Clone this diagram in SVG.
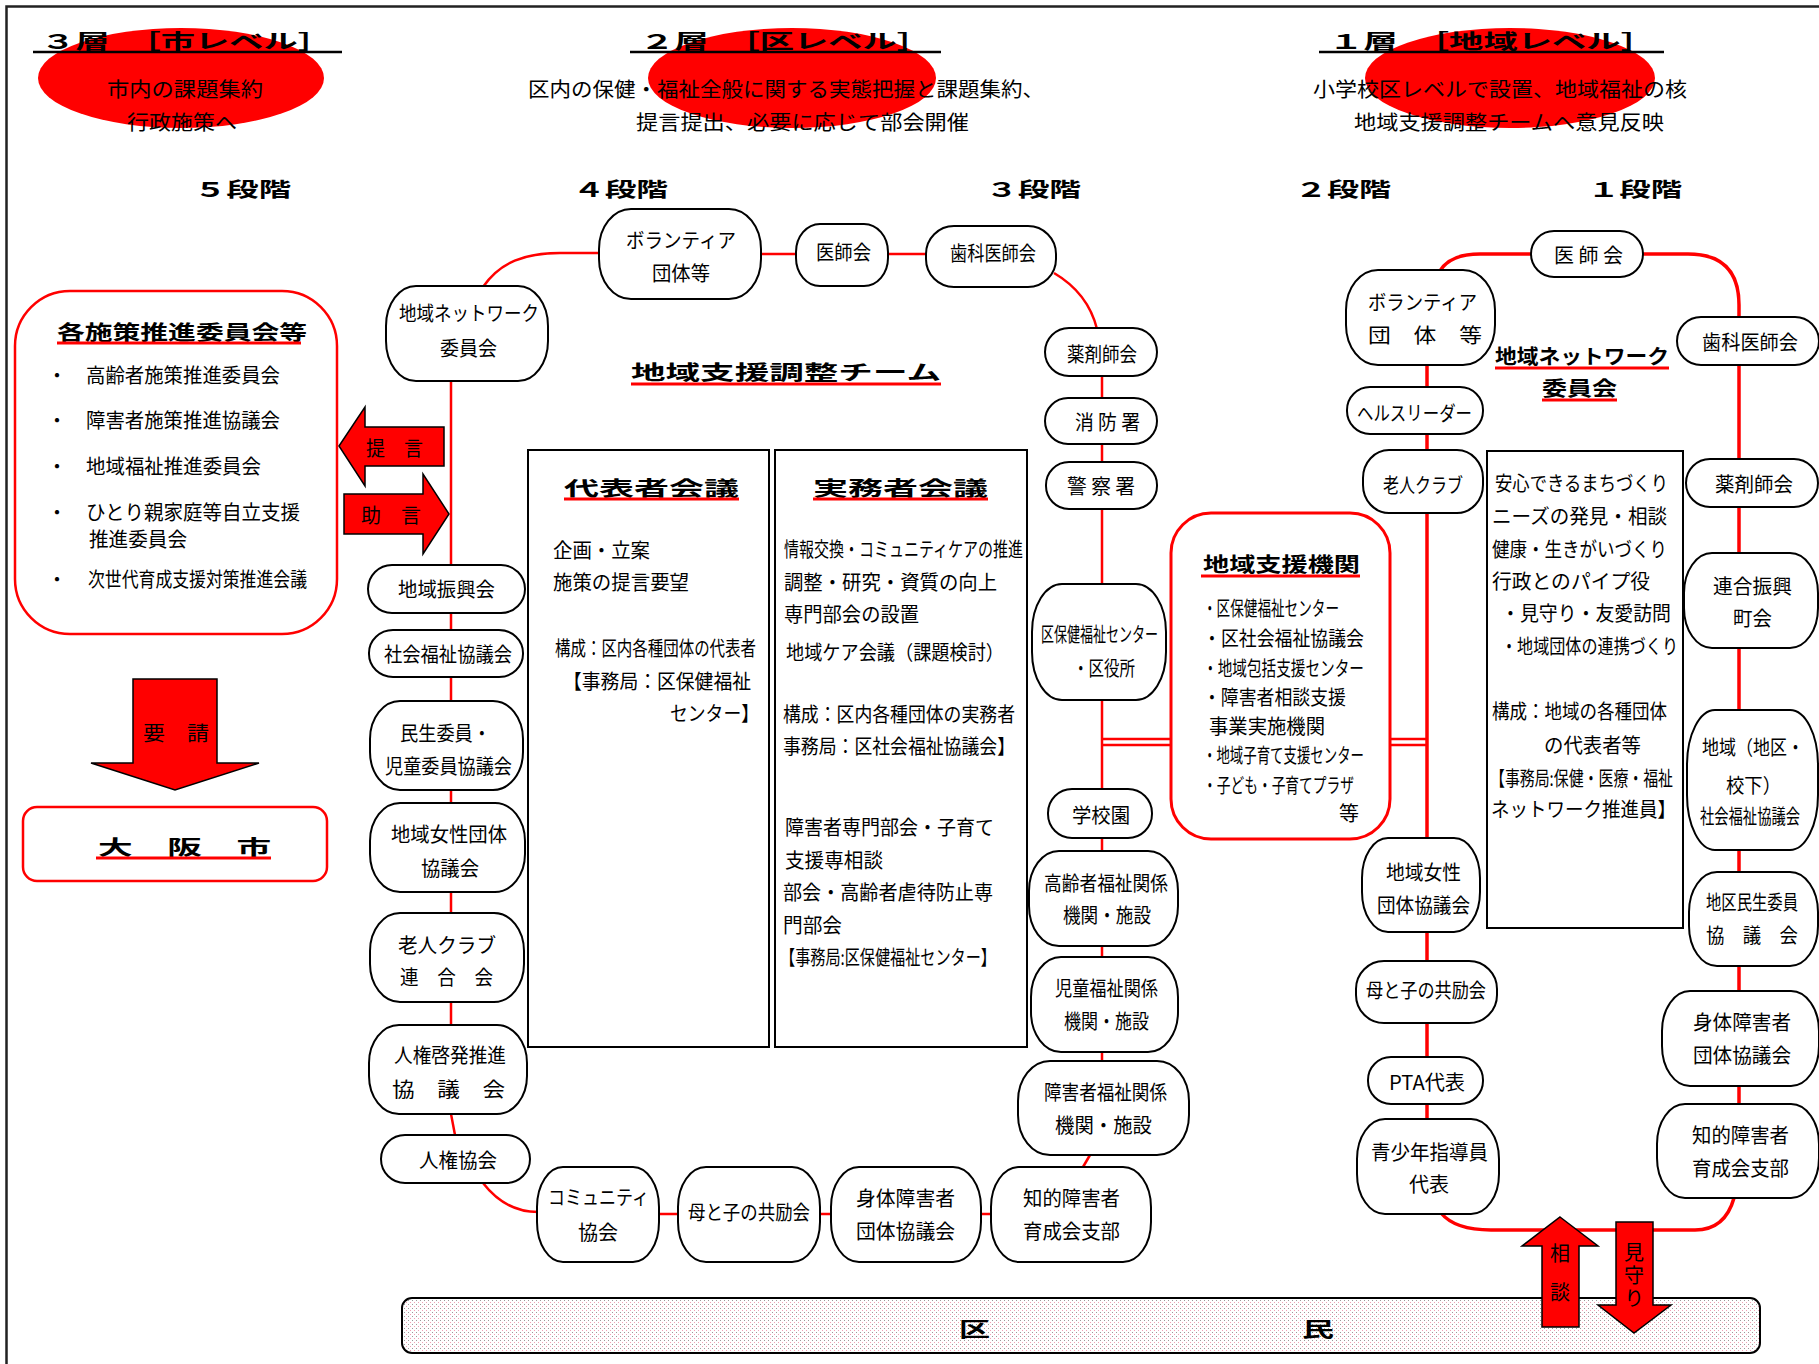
<svg xmlns="http://www.w3.org/2000/svg" width="1819" height="1364" viewBox="0 0 1819 1364">
<defs>
<style>
.t{font-family:"Noto Sans CJK JP","Noto Sans CJK SC",sans-serif;font-size:20px;fill:#000}
.b{font-weight:bold}
.v{writing-mode:vertical-rl;text-orientation:upright}
.n{fill:#fff;stroke:#000;stroke-width:2}
.rl{fill:none;stroke:#f00;stroke-width:2.5}
.rw{fill:none;stroke:#f00;stroke-width:3.5}
.ru{stroke:#f00;stroke-width:3}
.ku{stroke:#000;stroke-width:2.5}
.ar{fill:#f00;stroke:#000;stroke-width:1.5}
.rb{fill:#fff;stroke:#f00;stroke-width:2.5}
.bx{fill:#fff;stroke:#000;stroke-width:2}
</style>
<pattern id="dots" width="4" height="4" patternUnits="userSpaceOnUse">
<rect width="4" height="4" fill="#fff"/>
<rect x="0" y="0" width="1" height="1" fill="#9a9a9a"/>
<rect x="2" y="2" width="1" height="1" fill="#f2a0b4"/>
</pattern>
</defs>
<rect width="1819" height="1364" fill="#fff"/>
<rect x="6.5" y="6.5" width="1900" height="1500" fill="none" stroke="#222" stroke-width="2.5"/>

<g id="headers">
<ellipse cx="181" cy="78" rx="143" ry="50" fill="#f00"/>
<ellipse cx="792" cy="78" rx="144" ry="50" fill="#f00"/>
<ellipse cx="1510" cy="78" rx="145" ry="50" fill="#f00"/>
<text class="t b" x="41" y="49" font-size="27" textLength="291" lengthAdjust="spacingAndGlyphs">３層　［市レベル］</text>
<text class="t b" x="640" y="49" font-size="27" textLength="291" lengthAdjust="spacingAndGlyphs">２層　［区レベル］</text>
<text class="t b" x="1329" y="49" font-size="27" textLength="326" lengthAdjust="spacingAndGlyphs">１層　［地域レベル］</text>
<line class="ku" x1="33" y1="52" x2="342" y2="52"/>
<line class="ku" x1="630" y1="52" x2="941" y2="52"/>
<line class="ku" x1="1319" y1="52" x2="1664" y2="52"/>
<text class="t" x="107" y="97" font-size="22" textLength="156" lengthAdjust="spacingAndGlyphs">市内の課題集約</text>
<text class="t" x="127" y="130" font-size="22" textLength="110" lengthAdjust="spacingAndGlyphs">行政施策へ</text>
<text class="t" x="528" y="97" font-size="22" textLength="516" lengthAdjust="spacingAndGlyphs">区内の保健・福祉全般に関する実態把握と課題集約、</text>
<text class="t" x="636" y="130" font-size="22" textLength="333" lengthAdjust="spacingAndGlyphs">提言提出、必要に応じて部会開催</text>
<text class="t" x="1313" y="97" font-size="22" textLength="374" lengthAdjust="spacingAndGlyphs">小学校区レベルで設置、地域福祉の核</text>
<text class="t" x="1354" y="130" font-size="22" textLength="310" lengthAdjust="spacingAndGlyphs">地域支援調整チームへ意見反映</text>
<text class="t b" x="194" y="197" font-size="26" textLength="97" lengthAdjust="spacingAndGlyphs">５段階</text>
<text class="t b" x="573" y="197" font-size="26" textLength="95" lengthAdjust="spacingAndGlyphs">４段階</text>
<text class="t b" x="986" y="197" font-size="26" textLength="95" lengthAdjust="spacingAndGlyphs">３段階</text>
<text class="t b" x="1295" y="197" font-size="26" textLength="96" lengthAdjust="spacingAndGlyphs">２段階</text>
<text class="t b" x="1588" y="197" font-size="26" textLength="94" lengthAdjust="spacingAndGlyphs">１段階</text>
</g>

<g id="connectors">
<path class="rl" d="M483,287 C500,262 525,253 560,253 L600,253"/>
<path class="rl" d="M761,254 L796,254 M888,254 L926,254"/>
<path class="rl" d="M1054,273 Q1088,293 1097,329"/>
<path class="rl" d="M1102,376 L1102,1061"/>
<path class="rl" d="M1090,1155 L1083,1167"/>
<path class="rl" d="M659,1214 L991,1214"/>
<path class="rl" d="M451,381 L451,1114 L455,1135"/>
<path class="rl" d="M483,1183 C500,1205 520,1212 538,1212"/>
<path class="rl" d="M1102,739 L1171,739 M1102,745 L1171,745 M1390,739 L1427,739 M1390,745 L1427,745" stroke-width="2"/>
<path class="rw" d="M1440,271 Q1450,254 1480,254 L1531,254"/>
<path class="rw" d="M1643,254 L1688,254 Q1739,254 1739,305 L1739,1104"/>
<path class="rw" d="M1427,365 L1427,1119"/>
<path class="rw" d="M1441,1213 Q1455,1230 1491,1230 L1695,1230 Q1725,1230 1734,1198"/>
</g>

<g id="left-policy-box">
<rect class="rb" x="15" y="291" width="322" height="343" rx="55" ry="55"/>
<text class="t b" x="57" y="340" font-size="28" textLength="250" lengthAdjust="spacingAndGlyphs">各施策推進委員会等</text>
<line class="ru" x1="57" y1="343" x2="301" y2="343"/>
<text class="t" x="47" y="383">・</text>
<text class="t" x="47" y="428">・</text>
<text class="t" x="47" y="474">・</text>
<text class="t" x="47" y="520">・</text>
<text class="t" x="47" y="587">・</text>
<text class="t" x="86" y="383" textLength="194" lengthAdjust="spacingAndGlyphs">高齢者施策推進委員会</text>
<text class="t" x="86" y="428" textLength="194" lengthAdjust="spacingAndGlyphs">障害者施策推進協議会</text>
<text class="t" x="86" y="474" textLength="175" lengthAdjust="spacingAndGlyphs">地域福祉推進委員会</text>
<text class="t" x="86" y="520" textLength="214" lengthAdjust="spacingAndGlyphs">ひとり親家庭等自立支援</text>
<text class="t" x="89" y="547" textLength="98" lengthAdjust="spacingAndGlyphs">推進委員会</text>
<text class="t" x="88" y="587" textLength="219" lengthAdjust="spacingAndGlyphs">次世代育成支援対策推進会議</text>
</g>

<g id="arrow-teigen">
<polygon class="ar" points="339,446 365,407 365,427 444,427 444,466 365,466 365,486"/>
<text class="t" x="366" y="456" font-size="19" textLength="57" lengthAdjust="spacingAndGlyphs">提　言</text>
</g>
<g id="arrow-jogen">
<polygon class="ar" points="344,494 423,494 423,474 449,514 423,554 423,534 344,534"/>
<text class="t" x="361" y="523" font-size="19" textLength="60" lengthAdjust="spacingAndGlyphs">助　言</text>
</g>
<g id="arrow-yousei">
<polygon class="ar" points="133,679 217,679 217,763 259,763 175,790 91,763 133,763"/>
<text class="t" x="143" y="741" font-size="21" textLength="66" lengthAdjust="spacingAndGlyphs">要　請</text>
</g>
<g id="osaka-city">
<rect class="rb" x="23" y="807" width="304" height="74" rx="14" ry="14"/>
<text class="t b" x="98" y="855" font-size="29" textLength="173" lengthAdjust="spacingAndGlyphs">大　阪　市</text>
<line class="ru" x1="96" y1="858" x2="271" y2="858"/>
</g>

<g id="team-title">
<text class="t b" x="631" y="380" font-size="28" textLength="310" lengthAdjust="spacingAndGlyphs">地域支援調整チーム</text>
<line class="ru" x1="631" y1="384" x2="941" y2="384"/>
</g>

<g id="daihyousha">
<rect class="bx" x="528" y="450" width="241" height="597"/>
<text class="t b" x="564" y="496" font-size="28" textLength="175" lengthAdjust="spacingAndGlyphs">代表者会議</text>
<line class="ru" x1="564" y1="499" x2="739" y2="499"/>
<text class="t" x="553" y="558" textLength="97" lengthAdjust="spacingAndGlyphs">企画・立案</text>
<text class="t" x="553" y="590" textLength="136" lengthAdjust="spacingAndGlyphs">施策の提言要望</text>
<text class="t" x="555" y="656" textLength="201" lengthAdjust="spacingAndGlyphs">構成：区内各種団体の代表者</text>
<text class="t" x="563" y="689" textLength="188" lengthAdjust="spacingAndGlyphs">【事務局：区保健福祉</text>
<text class="t" x="670" y="721" textLength="89" lengthAdjust="spacingAndGlyphs">センター】</text>
</g>

<g id="jitsumusha">
<rect class="bx" x="775" y="450" width="252" height="597"/>
<text class="t b" x="813" y="496" font-size="28" textLength="175" lengthAdjust="spacingAndGlyphs">実務者会議</text>
<line class="ru" x1="813" y1="499" x2="988" y2="499"/>
<text class="t" x="784" y="557" textLength="239" lengthAdjust="spacingAndGlyphs">情報交換・コミュニティケアの推進</text>
<text class="t" x="784" y="590" textLength="213" lengthAdjust="spacingAndGlyphs">調整・研究・資質の向上</text>
<text class="t" x="784" y="622" textLength="135" lengthAdjust="spacingAndGlyphs">専門部会の設置</text>
<text class="t" x="786" y="660" font-size="19" textLength="218" lengthAdjust="spacingAndGlyphs">地域ケア会議（課題検討）</text>
<text class="t" x="783" y="722" textLength="232" lengthAdjust="spacingAndGlyphs">構成：区内各種団体の実務者</text>
<text class="t" x="783" y="754" textLength="232" lengthAdjust="spacingAndGlyphs">事務局：区社会福祉協議会】</text>
<text class="t" x="785" y="835" textLength="209" lengthAdjust="spacingAndGlyphs">障害者専門部会・子育て</text>
<text class="t" x="785" y="868" textLength="98" lengthAdjust="spacingAndGlyphs">支援専相談</text>
<text class="t" x="783" y="900" textLength="210" lengthAdjust="spacingAndGlyphs">部会・高齢者虐待防止専</text>
<text class="t" x="783" y="933" textLength="59" lengthAdjust="spacingAndGlyphs">門部会</text>
<text class="t" x="780" y="965" textLength="216" lengthAdjust="spacingAndGlyphs">【事務局:区保健福祉センター】</text>
</g>

<g id="shien-kikan">
<rect x="1171" y="513" width="219" height="326" rx="40" ry="40" fill="#fff" stroke="#f00" stroke-width="3"/>
<text class="t b" x="1203" y="572" font-size="27" textLength="157" lengthAdjust="spacingAndGlyphs">地域支援機関</text>
<line class="ru" x1="1201" y1="576" x2="1360" y2="576"/>
<text class="t" x="1203" y="616" font-size="19" textLength="136" lengthAdjust="spacingAndGlyphs">・区保健福祉センター</text>
<text class="t" x="1203" y="646" font-size="19" textLength="161" lengthAdjust="spacingAndGlyphs">・区社会福祉協議会</text>
<text class="t" x="1203" y="676" font-size="19" textLength="161" lengthAdjust="spacingAndGlyphs">・地域包括支援センター</text>
<text class="t" x="1203" y="705" font-size="19" textLength="143" lengthAdjust="spacingAndGlyphs">・障害者相談支援</text>
<text class="t" x="1209" y="734" font-size="19" textLength="116" lengthAdjust="spacingAndGlyphs">事業実施機関</text>
<text class="t" x="1203" y="763" font-size="19" textLength="161" lengthAdjust="spacingAndGlyphs">・地域子育て支援センター</text>
<text class="t" x="1203" y="793" font-size="19" textLength="151" lengthAdjust="spacingAndGlyphs">・子ども・子育てプラザ</text>
<text class="t" x="1339" y="821" font-size="19">等</text>
</g>

<g id="net-title">
<text class="t b" x="1495" y="364" font-size="25" textLength="174" lengthAdjust="spacingAndGlyphs">地域ネットワーク</text>
<line class="ru" x1="1495" y1="368" x2="1669" y2="368"/>
<text class="t b" x="1542" y="396" font-size="25" textLength="75" lengthAdjust="spacingAndGlyphs">委員会</text>
<line class="ru" x1="1542" y1="400" x2="1617" y2="400"/>
</g>

<g id="net-box">
<rect class="bx" x="1487" y="451" width="196" height="477"/>
<text class="t" x="1495" y="491" textLength="173" lengthAdjust="spacingAndGlyphs">安心できるまちづくり</text>
<text class="t" x="1492" y="524" textLength="175" lengthAdjust="spacingAndGlyphs">ニーズの発見・相談</text>
<text class="t" x="1492" y="557" textLength="175" lengthAdjust="spacingAndGlyphs">健康・生きがいづくり</text>
<text class="t" x="1492" y="589" textLength="158" lengthAdjust="spacingAndGlyphs">行政とのパイプ役</text>
<text class="t" x="1501" y="621" textLength="170" lengthAdjust="spacingAndGlyphs">・見守り・友愛訪問</text>
<text class="t" x="1501" y="654" textLength="177" lengthAdjust="spacingAndGlyphs">・地域団体の連携づくり</text>
<text class="t" x="1492" y="719" textLength="175" lengthAdjust="spacingAndGlyphs">構成：地域の各種団体</text>
<text class="t" x="1544" y="753" textLength="97" lengthAdjust="spacingAndGlyphs">の代表者等</text>
<text class="t" x="1490" y="786" textLength="183" lengthAdjust="spacingAndGlyphs">【事務局:保健・医療・福祉</text>
<text class="t" x="1491" y="817" textLength="185" lengthAdjust="spacingAndGlyphs">ネットワーク推進員】</text>
</g>

<g id="kumin-bar">
<rect x="402" y="1298" width="1358" height="55" rx="10" ry="10" fill="url(#dots)" stroke="#000" stroke-width="2"/>
<text class="t b" x="959" y="1337" font-size="28" textLength="31" lengthAdjust="spacingAndGlyphs">区</text>
<text class="t b" x="1302" y="1337" font-size="28" textLength="32" lengthAdjust="spacingAndGlyphs">民</text>
</g>

<g id="arrow-soudan">
<polygon class="ar" points="1560,1217 1598,1246 1579,1246 1579,1327 1542,1327 1542,1246 1522,1246"/>
<text class="t v" x="1560" y="1243" font-size="18" letter-spacing="19">相談</text>
</g>
<g id="arrow-mimamori">
<polygon class="ar" points="1616,1222 1653,1222 1653,1305 1671,1305 1634,1333 1598,1305 1616,1305"/>
<text class="t v" x="1634" y="1242" font-size="16" letter-spacing="3">見守り</text>
</g>

<!-- left column nodes -->
<g id="n-net-l"><rect class="n" x="386" y="286" width="162" height="95" rx="30" ry="40"/>
<text class="t" x="399" y="321" textLength="140" lengthAdjust="spacingAndGlyphs">地域ネットワーク</text>
<text class="t" x="440" y="356" textLength="57" lengthAdjust="spacingAndGlyphs">委員会</text></g>
<g id="n-shinko"><rect class="n" x="368" y="565" width="157" height="48" rx="24" ry="24"/>
<text class="t" x="398" y="597" textLength="97" lengthAdjust="spacingAndGlyphs">地域振興会</text></g>
<g id="n-shakyo"><rect class="n" x="369" y="630" width="154" height="47" rx="24" ry="23"/>
<text class="t" x="384" y="662" textLength="128" lengthAdjust="spacingAndGlyphs">社会福祉協議会</text></g>
<g id="n-minsei"><rect class="n" x="370" y="701" width="153" height="89" rx="30" ry="38"/>
<text class="t" x="400" y="741" textLength="91" lengthAdjust="spacingAndGlyphs">民生委員・</text>
<text class="t" x="385" y="774" textLength="127" lengthAdjust="spacingAndGlyphs">児童委員協議会</text></g>
<g id="n-josei-l"><rect class="n" x="370" y="803" width="155" height="89" rx="30" ry="38"/>
<text class="t" x="391" y="842" textLength="116" lengthAdjust="spacingAndGlyphs">地域女性団体</text>
<text class="t" x="421" y="876" textLength="58" lengthAdjust="spacingAndGlyphs">協議会</text></g>
<g id="n-roujin-l"><rect class="n" x="370" y="913" width="154" height="89" rx="30" ry="38"/>
<text class="t" x="398" y="953" textLength="98" lengthAdjust="spacingAndGlyphs">老人クラブ</text>
<text class="t" x="400" y="985" textLength="93" lengthAdjust="spacingAndGlyphs">連　合　会</text></g>
<g id="n-jinken-k"><rect class="n" x="369" y="1025" width="158" height="89" rx="30" ry="38"/>
<text class="t" x="394" y="1063" textLength="112" lengthAdjust="spacingAndGlyphs">人権啓発推進</text>
<text class="t" x="392" y="1097" textLength="113" lengthAdjust="spacingAndGlyphs">協　議　会</text></g>
<g id="n-jinken"><rect class="n" x="381" y="1135" width="149" height="48" rx="24" ry="24"/>
<text class="t" x="419" y="1168" textLength="78" lengthAdjust="spacingAndGlyphs">人権協会</text></g>

<!-- bottom row -->
<g id="n-community"><rect class="n" x="537" y="1167" width="122" height="95" rx="26" ry="40"/>
<text class="t" x="548" y="1205" textLength="101" lengthAdjust="spacingAndGlyphs">コミュニティ</text>
<text class="t" x="578" y="1240" textLength="40" lengthAdjust="spacingAndGlyphs">協会</text></g>
<g id="n-hahako-b"><rect class="n" x="678" y="1167" width="142" height="95" rx="28" ry="40"/>
<text class="t" x="688" y="1220" textLength="122" lengthAdjust="spacingAndGlyphs">母と子の共励会</text></g>
<g id="n-shintai-b"><rect class="n" x="831" y="1167" width="150" height="95" rx="28" ry="40"/>
<text class="t" x="856" y="1206" textLength="99" lengthAdjust="spacingAndGlyphs">身体障害者</text>
<text class="t" x="856" y="1239" textLength="99" lengthAdjust="spacingAndGlyphs">団体協議会</text></g>
<g id="n-chiteki-b"><rect class="n" x="991" y="1167" width="160" height="95" rx="28" ry="40"/>
<text class="t" x="1023" y="1206" textLength="97" lengthAdjust="spacingAndGlyphs">知的障害者</text>
<text class="t" x="1023" y="1239" textLength="97" lengthAdjust="spacingAndGlyphs">育成会支部</text></g>

<!-- middle (stage 3/4) nodes -->
<g id="n-volunteer-m"><rect class="n" x="599" y="209" width="162" height="90" rx="32" ry="40"/>
<text class="t" x="626" y="248" textLength="110" lengthAdjust="spacingAndGlyphs">ボランティア</text>
<text class="t" x="652" y="281" textLength="58" lengthAdjust="spacingAndGlyphs">団体等</text></g>
<g id="n-ishi-m"><rect class="n" x="796" y="224" width="92" height="62" rx="24" ry="28"/>
<text class="t" x="816" y="260" textLength="55" lengthAdjust="spacingAndGlyphs">医師会</text></g>
<g id="n-shika-m"><rect class="n" x="926" y="226" width="130" height="61" rx="28" ry="28"/>
<text class="t" x="950" y="261" textLength="86" lengthAdjust="spacingAndGlyphs">歯科医師会</text></g>
<g id="n-yakuzai-m"><rect class="n" x="1045" y="328" width="112" height="48" rx="24" ry="24"/>
<text class="t" x="1067" y="362" textLength="70" lengthAdjust="spacingAndGlyphs">薬剤師会</text></g>
<g id="n-shobo"><rect class="n" x="1045" y="398" width="112" height="46" rx="23" ry="23"/>
<text class="t" x="1075" y="430" textLength="65" lengthAdjust="spacingAndGlyphs">消 防 署</text></g>
<g id="n-keisatsu"><rect class="n" x="1046" y="462" width="111" height="47" rx="23" ry="23"/>
<text class="t" x="1067" y="494" textLength="68" lengthAdjust="spacingAndGlyphs">警 察 署</text></g>
<g id="n-kuhoken"><rect class="n" x="1032" y="584" width="134" height="116" rx="30" ry="48"/>
<text class="t" x="1041" y="642" font-size="18" textLength="117" lengthAdjust="spacingAndGlyphs">区保健福祉センター</text>
<text class="t" x="1073" y="676" font-size="18" textLength="62" lengthAdjust="spacingAndGlyphs">・区役所</text></g>
<g id="n-gakkoen"><rect class="n" x="1048" y="789" width="104" height="49" rx="24" ry="24"/>
<text class="t" x="1072" y="823" textLength="58" lengthAdjust="spacingAndGlyphs">学校園</text></g>
<g id="n-koureisha"><rect class="n" x="1029" y="851" width="149" height="95" rx="30" ry="40"/>
<text class="t" x="1044" y="891" textLength="124" lengthAdjust="spacingAndGlyphs">高齢者福祉関係</text>
<text class="t" x="1063" y="923" textLength="88" lengthAdjust="spacingAndGlyphs">機関・施設</text></g>
<g id="n-jido"><rect class="n" x="1031" y="957" width="147" height="95" rx="30" ry="40"/>
<text class="t" x="1055" y="996" textLength="103" lengthAdjust="spacingAndGlyphs">児童福祉関係</text>
<text class="t" x="1064" y="1029" textLength="85" lengthAdjust="spacingAndGlyphs">機関・施設</text></g>
<g id="n-shogai"><rect class="n" x="1018" y="1061" width="171" height="94" rx="32" ry="40"/>
<text class="t" x="1044" y="1100" textLength="123" lengthAdjust="spacingAndGlyphs">障害者福祉関係</text>
<text class="t" x="1055" y="1133" textLength="97" lengthAdjust="spacingAndGlyphs">機関・施設</text></g>

<!-- right inner column -->
<g id="n-volunteer-r"><rect class="n" x="1346" y="270" width="149" height="95" rx="32" ry="40"/>
<text class="t" x="1368" y="310" textLength="109" lengthAdjust="spacingAndGlyphs">ボランティア</text>
<text class="t" x="1368" y="343" textLength="114" lengthAdjust="spacingAndGlyphs">団　体　等</text></g>
<g id="n-health"><rect class="n" x="1347" y="387" width="136" height="47" rx="23" ry="23"/>
<text class="t" x="1357" y="421" textLength="115" lengthAdjust="spacingAndGlyphs">ヘルスリーダー</text></g>
<g id="n-roujin-r"><rect class="n" x="1363" y="450" width="120" height="63" rx="26" ry="28"/>
<text class="t" x="1383" y="493" textLength="80" lengthAdjust="spacingAndGlyphs">老人クラブ</text></g>
<g id="n-josei-r"><rect class="n" x="1362" y="838" width="118" height="94" rx="26" ry="40"/>
<text class="t" x="1386" y="880" textLength="75" lengthAdjust="spacingAndGlyphs">地域女性</text>
<text class="t" x="1377" y="913" textLength="93" lengthAdjust="spacingAndGlyphs">団体協議会</text></g>
<g id="n-hahako-r"><rect class="n" x="1356" y="961" width="141" height="62" rx="28" ry="28"/>
<text class="t" x="1366" y="998" textLength="120" lengthAdjust="spacingAndGlyphs">母と子の共励会</text></g>
<g id="n-pta"><rect class="n" x="1368" y="1057" width="115" height="47" rx="23" ry="23"/>
<text class="t" x="1389" y="1090" textLength="76" lengthAdjust="spacingAndGlyphs">PTA代表</text></g>
<g id="n-seishonen"><rect class="n" x="1357" y="1119" width="142" height="95" rx="28" ry="40"/>
<text class="t" x="1371" y="1160" textLength="117" lengthAdjust="spacingAndGlyphs">青少年指導員</text>
<text class="t" x="1409" y="1192" textLength="40" lengthAdjust="spacingAndGlyphs">代表</text></g>

<!-- top right and far right column -->
<g id="n-ishi-r"><rect class="n" x="1531" y="231" width="112" height="46" rx="23" ry="23"/>
<text class="t" x="1554" y="263" textLength="69" lengthAdjust="spacingAndGlyphs">医 師 会</text></g>
<g id="n-shika-r"><rect class="n" x="1677" y="317" width="142" height="48" rx="24" ry="24"/>
<text class="t" x="1702" y="350" textLength="96" lengthAdjust="spacingAndGlyphs">歯科医師会</text></g>
<g id="n-yakuzai-r"><rect class="n" x="1686" y="459" width="132" height="48" rx="24" ry="24"/>
<text class="t" x="1715" y="492" textLength="78" lengthAdjust="spacingAndGlyphs">薬剤師会</text></g>
<g id="n-rengo"><rect class="n" x="1684" y="553" width="134" height="95" rx="28" ry="40"/>
<text class="t" x="1713" y="594" textLength="79" lengthAdjust="spacingAndGlyphs">連合振興</text>
<text class="t" x="1733" y="626" textLength="39" lengthAdjust="spacingAndGlyphs">町会</text></g>
<g id="n-chiiki-shakyo"><rect class="n" x="1687" y="710" width="131" height="140" rx="28" ry="55"/>
<text class="t" x="1702" y="755" font-size="19" textLength="102" lengthAdjust="spacingAndGlyphs">地域（地区・</text>
<text class="t" x="1726" y="793" font-size="19" textLength="55" lengthAdjust="spacingAndGlyphs">校下）</text>
<text class="t" x="1700" y="824" font-size="14" textLength="100" lengthAdjust="spacingAndGlyphs">社会福祉協議会</text></g>
<g id="n-chiku-minsei"><rect class="n" x="1689" y="872" width="129" height="94" rx="28" ry="40"/>
<text class="t" x="1706" y="910" font-size="15" textLength="92" lengthAdjust="spacingAndGlyphs">地区民生委員</text>
<text class="t" x="1706" y="943" font-size="17" textLength="92" lengthAdjust="spacingAndGlyphs">協　議　会</text></g>
<g id="n-shintai-r"><rect class="n" x="1662" y="991" width="157" height="95" rx="28" ry="40"/>
<text class="t" x="1693" y="1030" textLength="98" lengthAdjust="spacingAndGlyphs">身体障害者</text>
<text class="t" x="1693" y="1063" textLength="98" lengthAdjust="spacingAndGlyphs">団体協議会</text></g>
<g id="n-chiteki-r"><rect class="n" x="1657" y="1104" width="162" height="94" rx="28" ry="40"/>
<text class="t" x="1692" y="1143" textLength="97" lengthAdjust="spacingAndGlyphs">知的障害者</text>
<text class="t" x="1692" y="1176" textLength="97" lengthAdjust="spacingAndGlyphs">育成会支部</text></g>
</svg>
